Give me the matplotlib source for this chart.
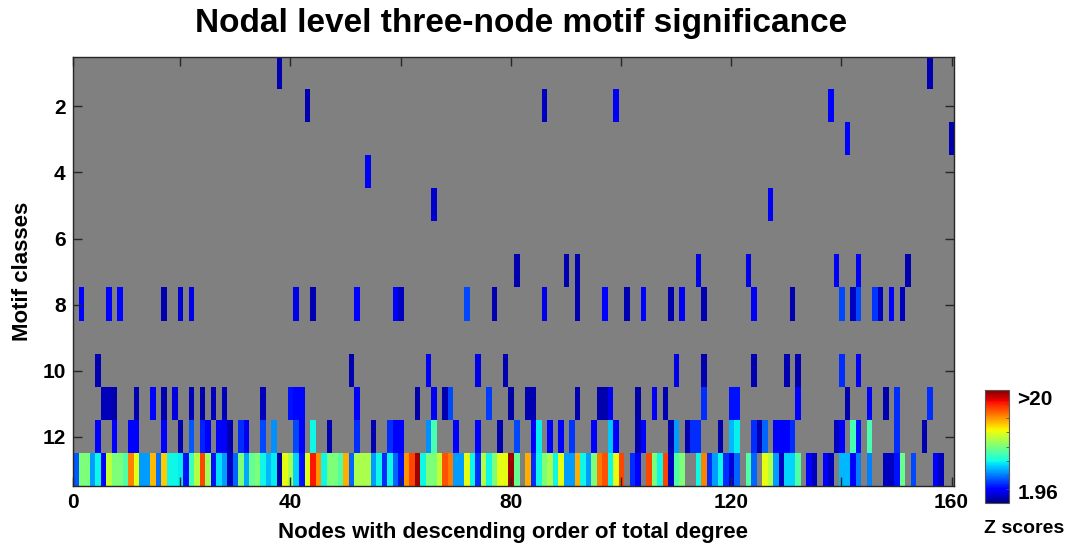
import numpy as np
import matplotlib.pyplot as plt

plt.rcParams['font.family'] = ['Liberation Sans', 'DejaVu Sans']
plt.rcParams['font.weight'] = 'bold'

n_nodes = 160
n_classes = 13
z_low, z_high = 1.96, 20

# significant nodes (1-based) and their z scores, per motif class
m1_nodes = [38, 156]
m1_z = [2.8, 2.8]
m2_nodes = [43, 86, 99, 138]
m2_z = [2.8, 3.0, 3.8, 4.0]
m3_nodes = [141, 160]
m3_z = [4.0, 2.8]
m4_nodes = [54]
m4_z = [3.8]
m5_nodes = [66, 127]
m5_z = [3.2, 3.8]
m7_nodes = [81, 90, 92, 114, 123, 139, 143, 152]
m7_z = [2.8, 2.8, 2.8, 3.6, 3.6, 3.8, 3.8, 2.8]
m8_nodes = [2, 7, 9, 17, 20, 22, 41, 44, 52, 59, 60, 72, 77, 86, 92, 97, 101,
            104, 109, 111, 115, 124, 131, 140, 142, 143, 146, 147, 149, 151]
m8_z = [4.0, 4.0, 4.3, 2.8, 3.3, 3.6, 3.6, 2.8, 4.0, 4.0, 3.0, 5.5, 2.8, 3.6,
        2.8, 4.2, 2.8, 4.0, 2.8, 3.8, 2.8, 3.8, 2.8, 5.5, 3.0, 5.5, 5.2, 3.0,
        4.0, 3.0]
m10_nodes = [5, 51, 65, 74, 79, 110, 115, 124, 130, 132, 140, 143]
m10_z = [2.8, 2.8, 3.8, 3.6, 2.8, 3.6, 2.8, 2.8, 2.8, 2.8, 5.0, 3.8]
m11_nodes = [6, 7, 8, 12, 15, 17, 19, 22, 24, 26, 28, 35, 40, 41, 42, 52, 63,
             66, 68, 69, 76, 80, 83, 84, 92, 96, 97, 98, 103, 106, 108, 115,
             120, 121, 132, 141, 145, 148, 150, 156]
m11_z = [2.9, 2.9, 2.7, 2.8, 4.0, 2.8, 3.5, 2.9, 2.6, 2.9, 2.9, 2.9, 4.5, 4.3,
         4.3, 4.2, 2.6, 3.8, 2.8, 5.5, 5.3, 2.6, 2.8, 2.8, 2.8, 2.7, 2.7, 3.8,
         2.6, 3.8, 2.8, 5.0, 4.5, 4.5, 4.0, 2.7, 4.0, 2.7, 5.0, 5.0]
m12_nodes = [5, 8, 11, 12, 17, 20, 22, 24, 25, 27, 28, 29, 31, 32, 35, 37, 41,
             42, 44, 47, 52, 55, 58, 59, 60, 65, 66, 70, 74, 78, 81, 84, 85,
             87, 89, 91, 95, 98, 99, 103, 104, 109, 110, 112, 113, 114, 118,
             120, 121, 124, 125, 126, 128, 129, 130, 131, 139, 140, 142, 143,
             145, 150, 155]
m12_z = [4.0, 4.0, 4.0, 4.0, 4.0, 2.8, 5.8, 4.8, 4.0, 4.0, 4.0, 2.8, 5.0, 3.8,
         5.5, 6.8, 5.5, 4.0, 8.6, 2.8, 5.0, 2.8, 5.0, 4.0, 4.0, 6.8, 9.8, 4.0,
         4.0, 2.8, 5.5, 4.0, 8.4, 4.0, 4.0, 5.2, 4.0, 7.8, 4.0, 2.8, 4.0, 2.8,
         7.0, 2.8, 5.0, 5.0, 2.8, 7.5, 8.5, 5.0, 2.8, 6.0, 4.0, 4.0, 4.0, 5.0,
         3.0, 4.2, 9.8, 4.5, 9.8, 5.0, 2.8]
nan = np.nan
m13_z = [5.8, 11.0, 11.0, 7.0, 8.6, 4.0, 12.5, 11.0, 11.0, 10.0,
         15.9, 13.3, 7.0, 7.0, 14.8, 6.2, 14.5, 8.6, 8.6, 8.4,
         4.5, 9.6, 12.2, 17.0, 11.8, 4.5, 8.2, 7.0, 3.0, 6.0,
         11.0, 7.2, 10.5, 11.0, 8.6, 7.5, 8.4, 2.5, 13.3, 12.0,
         8.0, 4.5, 13.3, 17.9, 15.5, 8.6, 11.0, 11.0, 10.0, 15.0,
         6.0, 12.0, 12.0, 12.0, 7.0, 8.6, 5.0, 8.6, 6.0, 4.5,
         15.5, 17.0, 19.5, 8.6, 11.0, 11.0, 12.5, 16.8, 16.0, 7.0,
         7.0, 13.3, 8.6, 5.0, 12.2, 8.6, 11.0, 13.3, 13.3, 19.5,
         10.5, nan, 15.0, 5.0, 8.6, 11.0, 12.0, 8.6, 13.3, 7.0,
         7.0, 15.0, 8.6, 7.0, 11.0, 16.0, 16.8, 8.6, 13.3, 17.0,
         nan, 5.0, 4.0, nan, 17.0, 11.0, 8.6, 17.0, 3.0, 10.0,
         11.0, nan, nan, 8.6, 15.9, 5.0, 7.0, 8.6, 5.0, 3.5,
         6.0, nan, 10.0, 6.0, nan, 13.3, 12.2, 7.0, 3.0, 8.0,
         8.0, 10.0, nan, 4.0, 3.0, nan, 4.0, 3.0, nan, 7.5,
         7.5, 4.0, 6.5, nan, 6.5, nan, nan, 3.0, 3.0, 4.5,
         10.5, nan, 5.5, nan, nan, nan, 4.0, 3.0, nan, nan]

sparse_rows = {1: (m1_nodes, m1_z), 2: (m2_nodes, m2_z), 3: (m3_nodes, m3_z),
               4: (m4_nodes, m4_z), 5: (m5_nodes, m5_z), 7: (m7_nodes, m7_z),
               8: (m8_nodes, m8_z), 10: (m10_nodes, m10_z),
               11: (m11_nodes, m11_z), 12: (m12_nodes, m12_z)}

Z = np.full((n_classes, n_nodes), np.nan)
for row, (nodes, zs) in sparse_rows.items():
    Z[row - 1, np.array(nodes) - 1] = zs
Z[12, :] = m13_z

fig = plt.figure(figsize=(10.69, 5.48), dpi=100)
ax = fig.add_axes([0.068, 0.1131, 0.8247, 0.7829])

cmap = plt.get_cmap('jet').copy()
cmap.set_bad('#808080')
im = ax.imshow(np.ma.masked_invalid(Z), cmap=cmap, vmin=z_low, vmax=z_high,
               aspect='auto', interpolation='nearest',
               extent=[0.5, n_nodes + 0.5, n_classes + 0.5, 0.5])

ax.set_xticks([0.5, 20, 40, 60, 80, 100, 120, 140, 160])
ax.set_xticklabels(['0', '', '40', '', '80', '', '120', '', '160'])
ax.set_yticks(range(2, 13, 2))
ax.tick_params(direction='in', length=6.5, width=1, top=True, right=True,
               color='#262626', labelsize=15, pad=5)
for s in ax.spines.values():
    s.set_color('#262626')
    s.set_linewidth(1)

ax.set_xlabel('Nodes with descending order of total degree', fontsize=16,
              fontweight='bold', labelpad=7)
ax.set_ylabel('Motif classes', fontsize=16, fontweight='bold', labelpad=7)
fig.text(0.4874, 0.9416, 'Nodal level three-node motif significance',
         ha='center', va='baseline', fontsize=24, fontweight='bold')

cax = fig.add_axes([0.9214, 0.0821, 0.02245, 0.2062])
cb = fig.colorbar(im, cax=cax)
cb.outline.set_edgecolor('#555555')
cb.set_ticks([z_low, z_high])
cb.set_ticklabels(['1.96', '>20'])
cax.tick_params(length=0, labelsize=15, pad=6)
labs = cax.get_yticklabels()
labs[0].set_va('bottom')
labs[1].set_va('top')
cax.set_yticks(np.linspace(z_low, z_high, 9)[1:-1], minor=True)
cax.tick_params(which='minor', direction='in', length=2, color='#555555')
fig.text(0.958, 0.036, 'Z scores', ha='center', va='center', fontsize=14,
         fontweight='bold')

fig.savefig('out.png', dpi=100)
